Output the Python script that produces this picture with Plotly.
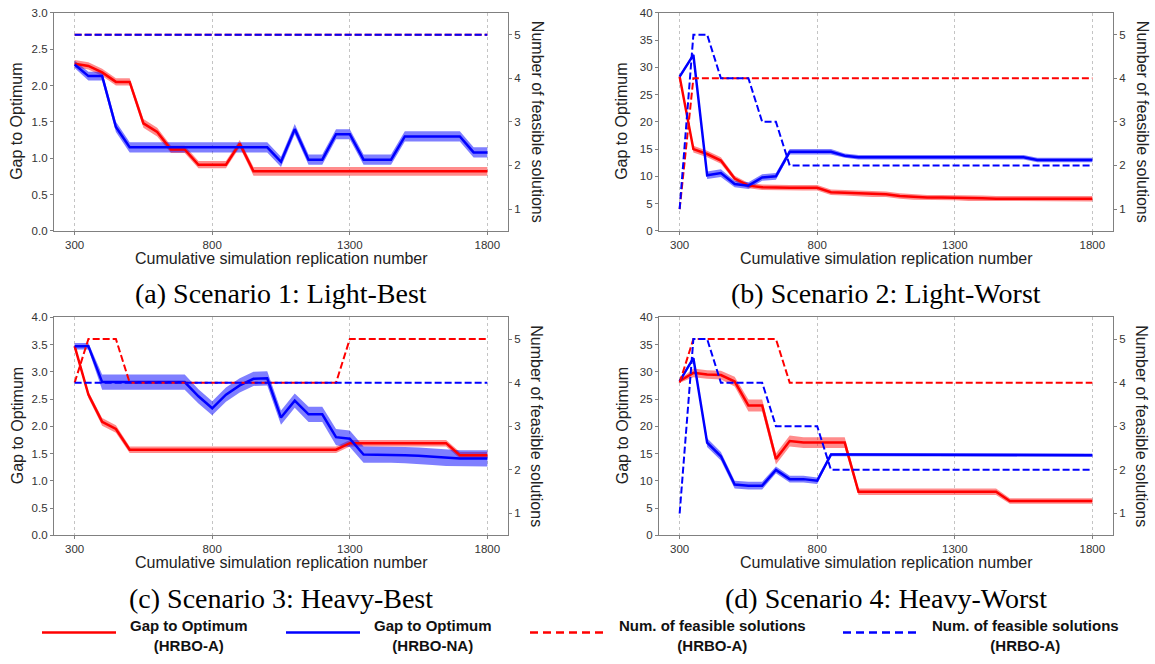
import plotly.graph_objects as go

# ---------------- data ----------------
x_reps = [300, 350, 400, 450, 500, 550, 600, 650, 700, 750, 800, 850, 900, 950, 1000,
          1050, 1100, 1150, 1200, 1250, 1300, 1350, 1400, 1450, 1500, 1550, 1600, 1650,
          1700, 1750, 1800]
x_ticks = [300, 800, 1300, 1800]
feas_ticks = [1, 2, 3, 4, 5]

# Scenario 1: Light-Best
gap_a_s1 = [2.30, 2.27, 2.18, 2.05, 2.05, 1.48, 1.36, 1.12, 1.12, 0.91, 0.91, 0.91, 1.20, 0.82, 0.82,
            0.82, 0.82, 0.82, 0.82, 0.82, 0.82, 0.82, 0.82, 0.82, 0.82, 0.82, 0.82, 0.82, 0.82, 0.82, 0.82]
band_a_s1 = [0.05, 0.05, 0.05, 0.05, 0.05, 0.06, 0.06, 0.05, 0.05, 0.05, 0.05, 0.05, 0.05, 0.06, 0.06,
             0.06, 0.06, 0.06, 0.06, 0.06, 0.06, 0.06, 0.06, 0.06, 0.06, 0.06, 0.06, 0.06, 0.06, 0.06, 0.06]
gap_na_s1 = [2.29, 2.13, 2.13, 1.43, 1.15, 1.15, 1.15, 1.15, 1.15, 1.15, 1.15, 1.15, 1.15, 1.15, 1.15,
             0.95, 1.40, 0.98, 0.98, 1.33, 1.33, 0.98, 0.98, 0.98, 1.30, 1.30, 1.30, 1.30, 1.30, 1.08, 1.08]
band_na_s1 = [0.05, 0.06, 0.06, 0.07, 0.07, 0.07, 0.07, 0.07, 0.07, 0.07, 0.07, 0.07, 0.07, 0.07, 0.07,
              0.07, 0.07, 0.07, 0.07, 0.07, 0.07, 0.07, 0.07, 0.07, 0.07, 0.07, 0.07, 0.07, 0.07, 0.07, 0.07]
feas_a_s1 = [5, 5, 5, 5, 5, 5, 5, 5, 5, 5, 5, 5, 5, 5, 5, 5, 5, 5, 5, 5, 5, 5, 5, 5, 5, 5, 5, 5, 5, 5, 5]
feas_na_s1 = [5, 5, 5, 5, 5, 5, 5, 5, 5, 5, 5, 5, 5, 5, 5, 5, 5, 5, 5, 5, 5, 5, 5, 5, 5, 5, 5, 5, 5, 5, 5]
gap_ticks_s1 = [0.0, 0.5, 1.0, 1.5, 2.0, 2.5, 3.0]

# Scenario 2: Light-Worst
gap_a_s2 = [28.3, 15.0, 14.1, 12.9, 9.6, 8.3, 8.0, 7.9, 7.9, 7.9, 7.9, 7.1, 7.0, 6.9, 6.7,
            6.7, 6.4, 6.2, 6.1, 6.1, 6.1, 6.0, 6.0, 5.9, 5.9, 5.9, 5.9, 5.9, 5.9, 5.9, 5.9]
band_a_s2 = [0.3, 0.6, 0.6, 0.6, 0.5, 0.5, 0.5, 0.5, 0.5, 0.5, 0.5, 0.5, 0.5, 0.5, 0.5,
             0.5, 0.5, 0.5, 0.5, 0.5, 0.5, 0.5, 0.5, 0.5, 0.5, 0.5, 0.5, 0.5, 0.5, 0.5, 0.5]
gap_na_s2 = [28.3, 32.3, 10.2, 10.6, 8.6, 8.3, 9.8, 10.0, 14.5, 14.5, 14.5, 14.5, 13.8, 13.5, 13.5,
             13.5, 13.5, 13.5, 13.5, 13.5, 13.5, 13.5, 13.5, 13.5, 13.5, 13.5, 13.0, 13.0, 13.0, 13.0, 13.0]
band_na_s2 = [0.3, 0.3, 0.7, 0.7, 0.6, 0.6, 0.6, 0.6, 0.5, 0.5, 0.5, 0.5, 0.4, 0.4, 0.4,
              0.4, 0.4, 0.4, 0.4, 0.4, 0.4, 0.4, 0.4, 0.4, 0.4, 0.4, 0.4, 0.4, 0.4, 0.4, 0.4]
feas_a_s2 = [1, 4, 4, 4, 4, 4, 4, 4, 4, 4, 4, 4, 4, 4, 4, 4, 4, 4, 4, 4, 4, 4, 4, 4, 4, 4, 4, 4, 4, 4, 4]
feas_na_s2 = [1, 5, 5, 4, 4, 4, 3, 3, 2, 2, 2, 2, 2, 2, 2, 2, 2, 2, 2, 2, 2, 2, 2, 2, 2, 2, 2, 2, 2, 2, 2]
gap_ticks_s2 = [0, 5, 10, 15, 20, 25, 30, 35, 40]

# Scenario 3: Heavy-Best
gap_a_s3 = [3.47, 2.58, 2.08, 1.95, 1.57, 1.57, 1.57, 1.57, 1.57, 1.57, 1.57, 1.57, 1.57, 1.57, 1.57,
            1.57, 1.57, 1.57, 1.57, 1.57, 1.69, 1.69, 1.69, 1.69, 1.69, 1.69, 1.69, 1.69, 1.47, 1.47, 1.47]
band_a_s3 = [0.04, 0.06, 0.07, 0.07, 0.06, 0.06, 0.06, 0.06, 0.06, 0.06, 0.06, 0.06, 0.06, 0.06, 0.06,
             0.06, 0.06, 0.06, 0.06, 0.06, 0.06, 0.06, 0.06, 0.06, 0.06, 0.06, 0.06, 0.06, 0.06, 0.06, 0.06]
gap_na_s3 = [3.47, 3.47, 2.81, 2.81, 2.81, 2.81, 2.81, 2.81, 2.81, 2.55, 2.33, 2.58, 2.75, 2.87, 2.88,
             2.16, 2.47, 2.22, 2.22, 1.80, 1.77, 1.48, 1.48, 1.48, 1.47, 1.46, 1.44, 1.42, 1.41, 1.41, 1.41]
band_na_s3 = [0.06, 0.06, 0.14, 0.14, 0.14, 0.14, 0.14, 0.14, 0.14, 0.13, 0.13, 0.13, 0.13, 0.13, 0.13,
              0.13, 0.13, 0.14, 0.14, 0.15, 0.15, 0.15, 0.15, 0.15, 0.15, 0.15, 0.15, 0.15, 0.15, 0.15, 0.15]
feas_a_s3 = [4, 5, 5, 5, 4, 4, 4, 4, 4, 4, 4, 4, 4, 4, 4, 4, 4, 4, 4, 4, 5, 5, 5, 5, 5, 5, 5, 5, 5, 5, 5]
feas_na_s3 = [4, 4, 4, 4, 4, 4, 4, 4, 4, 4, 4, 4, 4, 4, 4, 4, 4, 4, 4, 4, 4, 4, 4, 4, 4, 4, 4, 4, 4, 4, 4]
gap_ticks_s3 = [0.0, 0.5, 1.0, 1.5, 2.0, 2.5, 3.0, 3.5, 4.0]

# Scenario 4: Heavy-Worst
gap_a_s4 = [28.3, 29.8, 29.5, 29.4, 28.2, 23.8, 23.8, 14.0, 17.3, 17.0, 17.0, 17.0, 17.0, 8.0, 8.0,
            8.0, 8.0, 8.0, 8.0, 8.0, 8.0, 8.0, 8.0, 8.0, 6.3, 6.3, 6.3, 6.3, 6.3, 6.3, 6.3]
band_a_s4 = [0.3, 0.8, 0.8, 0.8, 0.9, 1.1, 1.1, 1.0, 1.0, 1.0, 1.0, 1.0, 1.0, 0.6, 0.6,
             0.6, 0.6, 0.6, 0.6, 0.6, 0.6, 0.6, 0.6, 0.6, 0.5, 0.5, 0.5, 0.5, 0.5, 0.5, 0.5]
gap_na_s4 = [28.3, 32.5, 17.0, 14.5, 9.3, 9.1, 9.1, 12.0, 10.3, 10.3, 10.0, 14.8, 14.8, 14.8, 14.8,
             14.8, 14.7, 14.7, 14.7, 14.7, 14.7, 14.7, 14.7, 14.7, 14.7, 14.7, 14.7, 14.7, 14.7, 14.7, 14.7]
band_na_s4 = [0.3, 0.3, 0.8, 0.8, 0.7, 0.7, 0.7, 0.6, 0.6, 0.6, 0.6, 0.3, 0.3, 0.3, 0.3,
              0.3, 0.3, 0.3, 0.3, 0.3, 0.3, 0.3, 0.3, 0.3, 0.3, 0.3, 0.3, 0.3, 0.3, 0.3, 0.3]
feas_a_s4 = [4, 5, 5, 5, 5, 5, 5, 5, 4, 4, 4, 4, 4, 4, 4, 4, 4, 4, 4, 4, 4, 4, 4, 4, 4, 4, 4, 4, 4, 4, 4]
feas_na_s4 = [1, 5, 5, 4, 4, 4, 4, 3, 3, 3, 3, 2, 2, 2, 2, 2, 2, 2, 2, 2, 2, 2, 2, 2, 2, 2, 2, 2, 2, 2, 2]
gap_ticks_s4 = [0, 5, 10, 15, 20, 25, 30, 35, 40]

captions = ["(a) Scenario 1: Light-Best", "(b) Scenario 2: Light-Worst",
            "(c) Scenario 3: Heavy-Best", "(d) Scenario 4: Heavy-Worst"]
legend_labels = ["Gap to Optimum<br>(HRBO-A)", "Gap to Optimum<br>(HRBO-NA)",
                 "Num. of feasible solutions<br>(HRBO-A)", "Num. of feasible solutions<br>(HRBO-A)"]

# ---------------- styling / layout ----------------
W, H = 1155, 664
RED, BLUE = "#ff0000", "#0000ff"
RED_FILL, BLUE_FILL = "rgba(255,0,0,0.45)", "rgba(0,0,255,0.5)"
AX = "#808080"
SANS = "Liberation Sans, Arial, sans-serif"
SERIF = "Liberation Serif, Times New Roman, serif"

cols = [(54, 508), (659, 1113)]
rows = [(7, 229), (317, 539)]

panels = [
    (gap_a_s1, band_a_s1, gap_na_s1, band_na_s1, feas_a_s1, feas_na_s1, gap_ticks_s1, ".1f"),
    (gap_a_s2, band_a_s2, gap_na_s2, band_na_s2, feas_a_s2, feas_na_s2, gap_ticks_s2, "d"),
    (gap_a_s3, band_a_s3, gap_na_s3, band_na_s3, feas_a_s3, feas_na_s3, gap_ticks_s3, ".1f"),
    (gap_a_s4, band_a_s4, gap_na_s4, band_na_s4, feas_a_s4, feas_na_s4, gap_ticks_s4, "d"),
]

fig = go.Figure()
layout = dict(
    width=W, height=H, margin=dict(l=0, r=0, t=0, b=0),
    paper_bgcolor="white", plot_bgcolor="white", showlegend=False,
    font=dict(family=SANS, size=11.5, color="#333333"),
)
annotations = []
shapes = []


def band_trace(xs, ys, hw, fill, xa, ya):
    upper = [v + h for v, h in zip(ys, hw)]
    lower = [v - h for v, h in zip(ys, hw)]
    return go.Scatter(x=xs + xs[::-1], y=upper + lower[::-1], fill="toself",
                      fillcolor=fill, line=dict(width=0), mode="lines",
                      hoverinfo="skip", xaxis=xa, yaxis=ya)


for k, (ga, ba, gn, bn, fa, fn, gticks, gfmt) in enumerate(panels):
    r, c = divmod(k, 2)
    x0, x1 = cols[c]
    y0, y1 = rows[r]
    xa = "x" if k == 0 else f"x{k+1}"
    ya = "y" if k == 0 else f"y{k+1}"
    yr = f"y{k+5}"

    fig.add_trace(band_trace(x_reps, ga, ba, RED_FILL, xa, ya))
    fig.add_trace(band_trace(x_reps, gn, bn, BLUE_FILL, xa, ya))
    fig.add_trace(go.Scatter(x=x_reps, y=ga, mode="lines", line=dict(color=RED, width=2.5),
                             xaxis=xa, yaxis=ya))
    fig.add_trace(go.Scatter(x=x_reps, y=gn, mode="lines", line=dict(color=BLUE, width=2.5),
                             xaxis=xa, yaxis=ya))
    fig.add_trace(go.Scatter(x=x_reps, y=fa, mode="lines",
                             line=dict(color=RED, width=2, dash="7px,3px"), xaxis=xa, yaxis=yr))
    fig.add_trace(go.Scatter(x=x_reps, y=fn, mode="lines",
                             line=dict(color=BLUE, width=2, dash="7px,3px"), xaxis=xa, yaxis=yr))

    xkey = "xaxis" if k == 0 else f"xaxis{k+1}"
    ykey = "yaxis" if k == 0 else f"yaxis{k+1}"
    rkey = f"yaxis{k+5}"
    layout[xkey] = dict(
        domain=[x0 / W, x1 / W], anchor=ya, range=[225, 1875],
        tickvals=x_ticks, ticks="outside", ticklen=3, tickcolor=AX,
        showline=True, linecolor=AX, linewidth=1.3, mirror=True,
        showgrid=True, gridcolor="#c4c4c4", griddash="dot", gridwidth=1,
        zeroline=False,
    )
    layout[ykey] = dict(
        domain=[1 - y1 / H, 1 - y0 / H], anchor=xa, range=[gticks[0], gticks[-1]],
        tickvals=gticks, tickformat=gfmt, ticks="outside", ticklen=3, tickcolor=AX,
        showline=True, linecolor=AX, linewidth=1.3, mirror=True,
        showgrid=False, zeroline=False,
    )
    layout[rkey] = dict(
        overlaying=ya, anchor=xa, side="right", range=[0.5, 5.5],
        tickvals=feas_ticks, ticks="outside", ticklen=3, tickcolor=AX,
        showline=False, showgrid=False, zeroline=False,
    )

    xc = (x0 + x1) / 2
    yc = (y0 + y1) / 2
    annotations.append(dict(text="Cumulative simulation replication number", xref="paper", yref="paper",
                            x=xc / W, y=1 - (y1 + 28) / H, xanchor="center", yanchor="middle",
                            showarrow=False, font=dict(family=SANS, size=16, color="#222222")))
    annotations.append(dict(text="Gap to Optimum", xref="paper", yref="paper",
                            x=(x0 - 37) / W, y=1 - yc / H, xanchor="center", yanchor="middle",
                            textangle=-90, showarrow=False,
                            font=dict(family=SANS, size=16, color="#222222")))
    annotations.append(dict(text="Number of feasible solutions", xref="paper", yref="paper",
                            x=(x1 + 29) / W, y=1 - yc / H, xanchor="center", yanchor="middle",
                            textangle=90, showarrow=False,
                            font=dict(family=SANS, size=16, color="#222222")))
    annotations.append(dict(text=captions[k], xref="paper", yref="paper",
                            x=xc / W, y=1 - (y1 + 64) / H, xanchor="center", yanchor="middle",
                            showarrow=False, font=dict(family=SERIF, size=28, color="#000000")))

# legend (drawn as glyph lines + two-line centred labels)
leg_lines = [(42, 116, RED, "solid"), (286, 360, BLUE, "solid"),
             (530, 605, RED, "8px,5px"), (843, 918, BLUE, "8px,5px")]
leg_text_x = [189, 433, 712, 1025]
for (lx0, lx1, col, dash), tx, lab in zip(leg_lines, leg_text_x, legend_labels):
    shapes.append(dict(type="line", xref="paper", yref="paper", x0=lx0 / W, x1=lx1 / W,
                       y0=1 - 638 / H, y1=1 - 638 / H, line=dict(color=col, width=2.5, dash=dash)))
    annotations.append(dict(text="<b>" + lab.replace("<br>", "</b><br><b>") + "</b>",
                            xref="paper", yref="paper", x=tx / W, y=1 - 641.5 / H,
                            xanchor="center", yanchor="middle", align="center", showarrow=False,
                            font=dict(family=SANS, size=15, color="#111111")))

layout["annotations"] = annotations
layout["shapes"] = shapes
fig.update_layout(**layout)
fig.write_html("out.html")
